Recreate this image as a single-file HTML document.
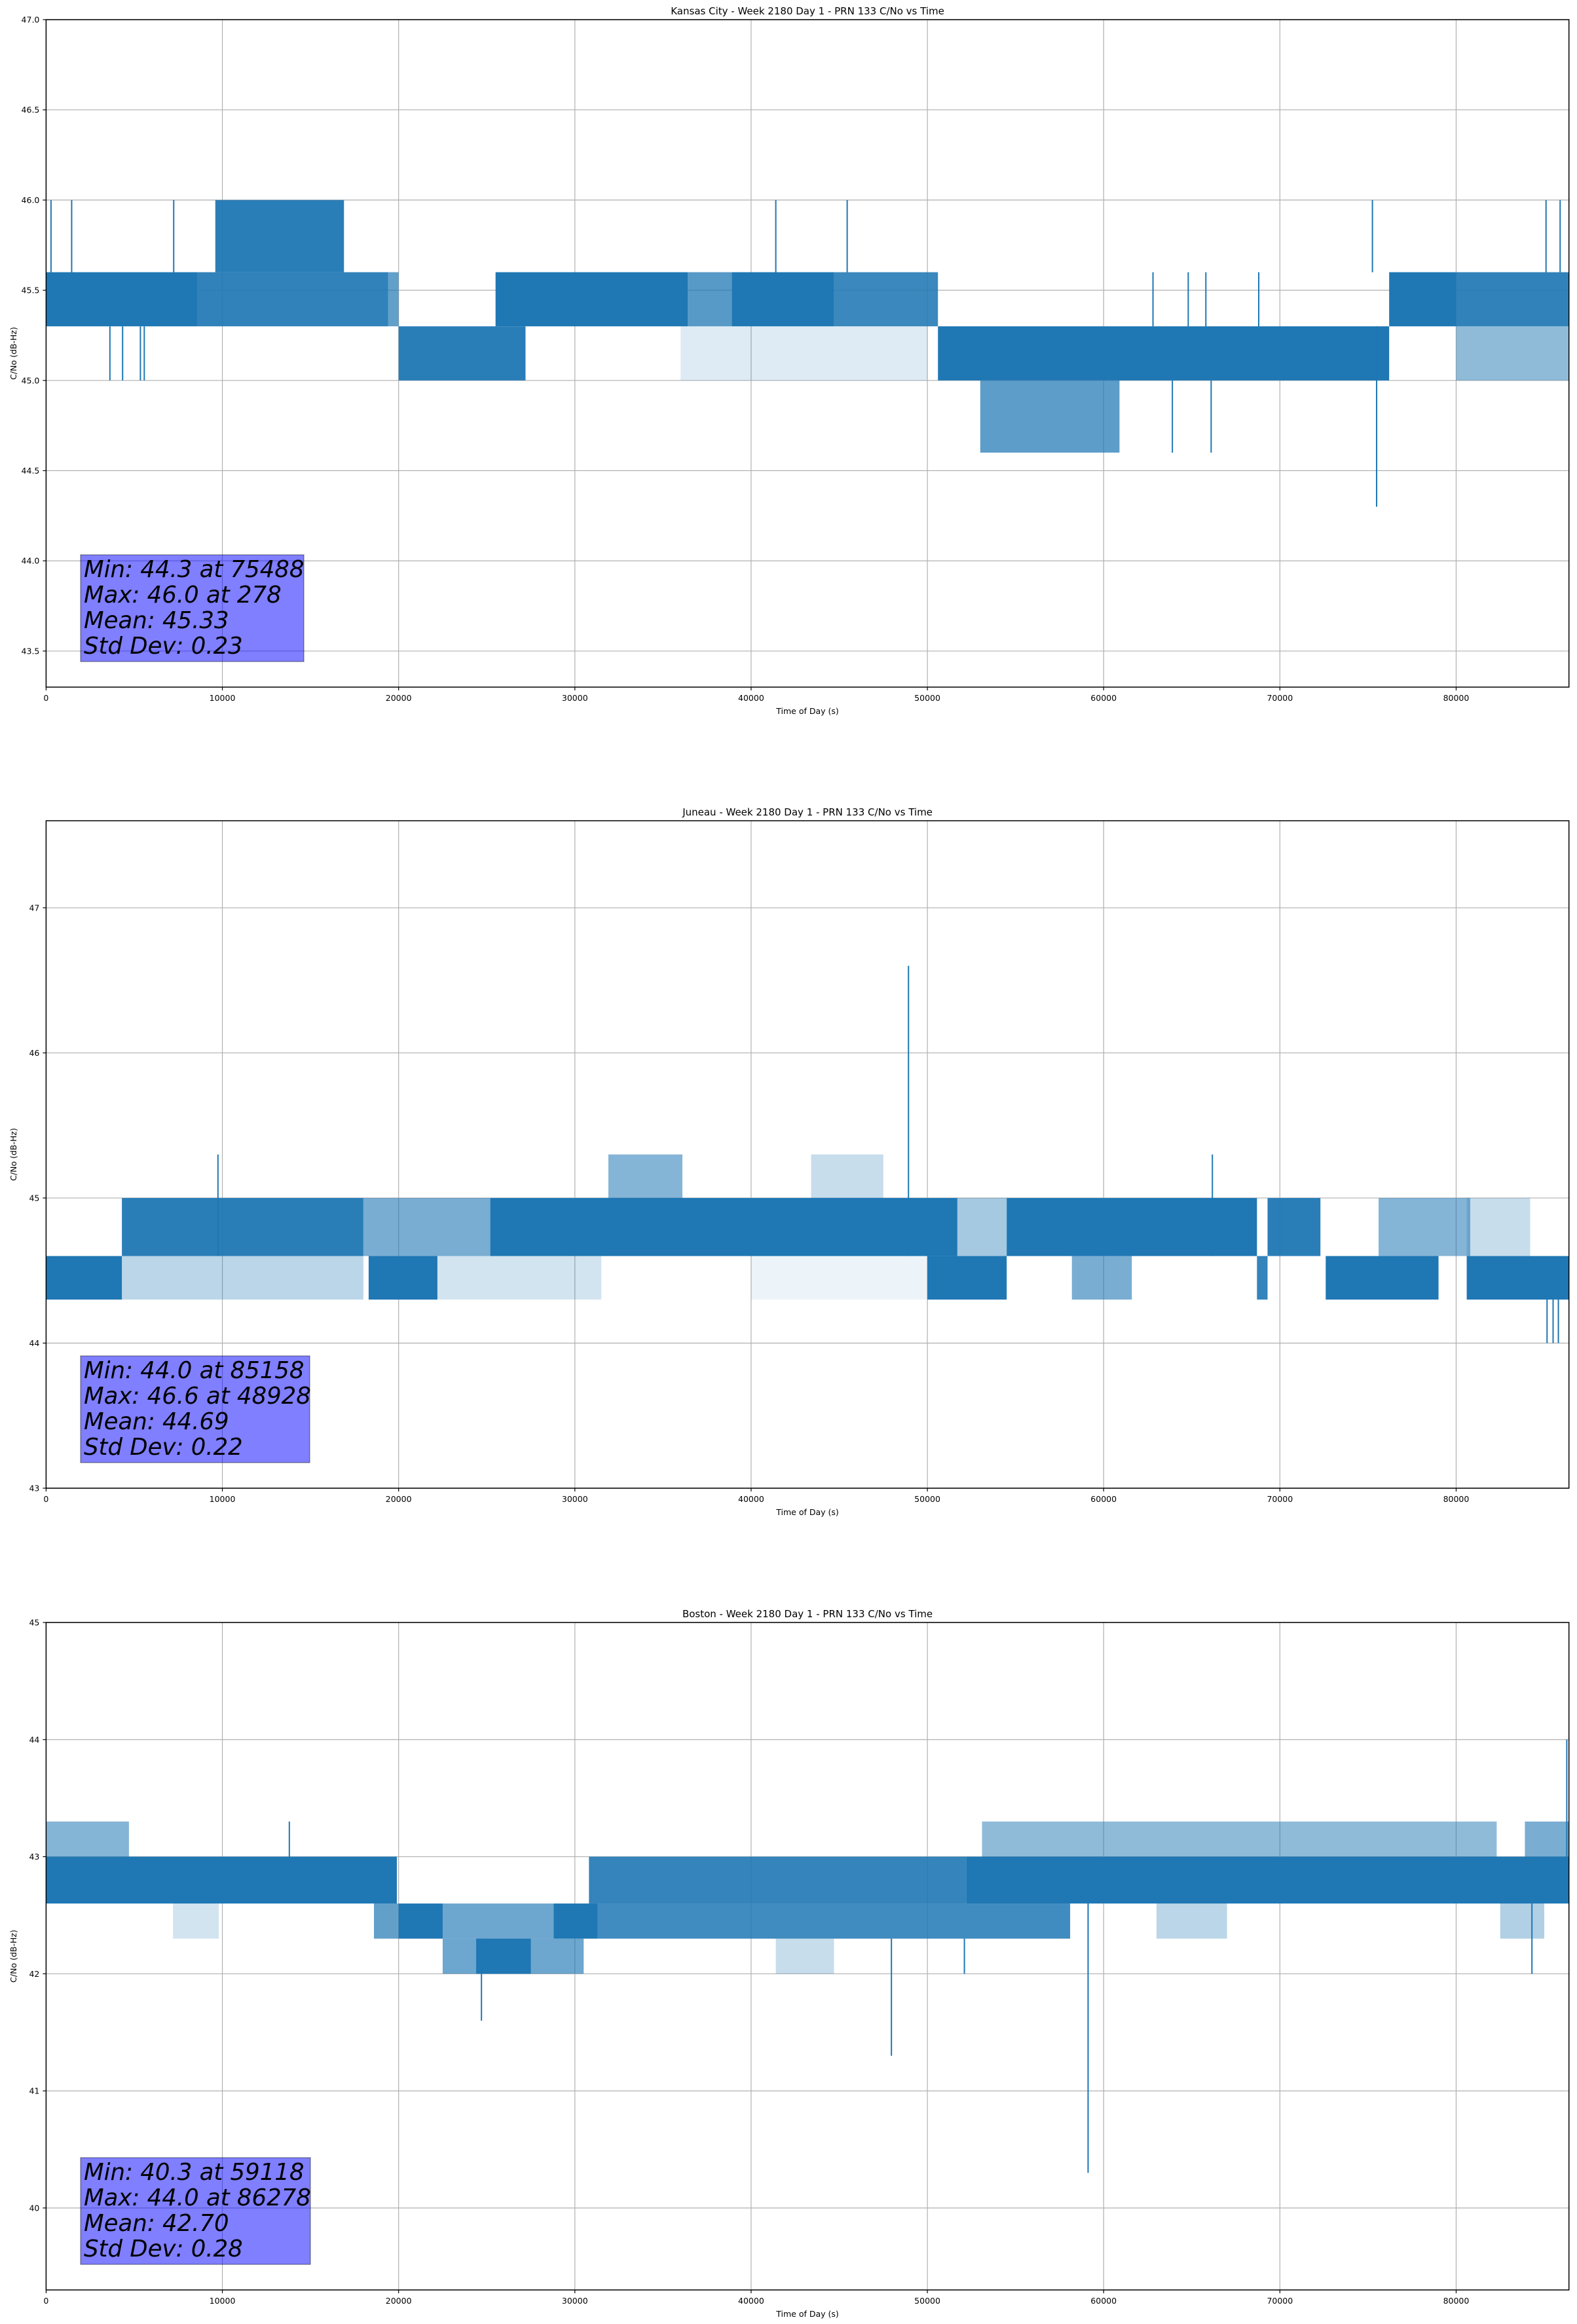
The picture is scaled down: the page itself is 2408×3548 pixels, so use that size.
<!DOCTYPE html>
<html><head><meta charset="utf-8"><title>PRN 133 C/No vs Time</title>
<style>html,body{margin:0;padding:0;background:#fff}svg{display:block}text{font-family:"DejaVu Sans","Liberation Sans",sans-serif}</style>
</head><body>
<svg id="fig" xmlns="http://www.w3.org/2000/svg" width="2408" height="3548" viewBox="0 0 2408 3548"></svg>
<script>
// ---------- Chart 1: Kansas City ----------
const kcTitle = "Kansas City - Week 2180 Day 1 - PRN 133 C/No vs Time";
const kcBandStart = [0,8600,9600,19400,20000,25500,36400,38900,44700,36000,50600,53000,76200,80000,80000];
const kcBandEnd   = [8600,19400,16900,20000,27200,36400,38900,44700,50600,50000,76200,60900,80000,86400,86400];
const kcBandLow   = [45.3,45.3,45.6,45.3,45.0,45.3,45.3,45.3,45.3,45.0,45.0,44.6,45.3,45.3,45.0];
const kcBandHigh  = [45.6,45.6,46.0,45.6,45.3,45.6,45.6,45.6,45.6,45.3,45.3,45.0,45.6,45.6,45.3];
const kcBandDensity = [1,0.92,0.95,0.7,0.95,1,0.75,1,0.88,0.15,1,0.72,1,0.92,0.5];
const kcSpikeT    = [278,1450,7240,41400,45450,75250,85100,85900,3620,4340,5350,5570,75488,63900,66100,62800,64800,65800,68800];
const kcSpikeLow  = [45.6,45.6,45.6,45.6,45.6,45.6,45.6,45.6,45.0,45.0,45.0,45.0,44.3,44.6,44.6,45.3,45.3,45.3,45.3];
const kcSpikeHigh = [46.0,46.0,46.0,46.0,46.0,46.0,46.0,46.0,45.3,45.3,45.3,45.3,45.3,45.0,45.0,45.6,45.6,45.6,45.6];
const kcYTicks = [43.5,44.0,44.5,45.0,45.5,46.0,46.5,47.0];
const kcStats = ["Min: 44.3 at 75488","Max: 46.0 at 278","Mean: 45.33","Std Dev: 0.23"];

// ---------- Chart 2: Juneau ----------
const juTitle = "Juneau - Week 2180 Day 1 - PRN 133 C/No vs Time";
const juBandStart = [0,4300,4300,18300,18000,22200,25200,31900,43400,40000,50000,51700,54500,69300,58200,68700,72600,75600,80600,80600];
const juBandEnd   = [4300,18000,18000,22200,25200,31500,51700,36100,47500,50000,54500,54500,68700,72300,61600,69300,79000,80800,86400,84200];
const juBandLow   = [44.3,44.6,44.3,44.3,44.6,44.3,44.6,45.0,45.0,44.3,44.3,44.6,44.6,44.6,44.3,44.3,44.3,44.6,44.3,44.6];
const juBandHigh  = [44.6,45.0,44.6,44.6,45.0,44.6,45.0,45.3,45.3,44.6,44.6,45.0,45.0,45.0,44.6,44.6,44.6,45.0,44.6,45.0];
const juBandDensity = [1,0.95,0.3,1,0.6,0.2,1,0.55,0.25,0.08,1,0.4,1,0.95,0.6,0.9,1,0.55,1,0.25];
const juSpikeT    = [9750,48928,66170,85158,85500,85800];
const juSpikeLow  = [44.6,44.6,44.6,44.0,44.0,44.0];
const juSpikeHigh = [45.3,46.6,45.3,44.3,44.3,44.3];
const juYTicks = [43,44,45,46,47];
const juStats = ["Min: 44.0 at 85158","Max: 46.6 at 48928","Mean: 44.69","Std Dev: 0.22"];

// ---------- Chart 3: Boston ----------
const boTitle = "Boston - Week 2180 Day 1 - PRN 133 C/No vs Time";
const boBandStart = [0,0,7200,18600,20000,22500,28800,22500,24400,30800,31300,52200,53100,83900,63000,82500,41400];
const boBandEnd   = [19900,4700,9800,20000,22500,28800,31300,30500,27500,52200,58100,86400,82300,86400,67000,85000,44700];
const boBandLow   = [42.6,43.0,42.3,42.3,42.3,42.3,42.3,42.0,42.0,42.6,42.3,42.6,43.0,43.0,42.3,42.3,42.0];
const boBandHigh  = [43.0,43.3,42.6,42.6,42.6,42.6,42.6,42.3,42.3,43.0,42.6,43.0,43.3,43.3,42.6,42.6,42.3];
const boBandDensity = [1,0.55,0.2,0.7,1,0.65,1,0.65,1,0.9,0.85,1,0.5,0.6,0.3,0.35,0.25];
const boSpikeT    = [13800,24700,47960,59118,86278,84300,52100];
const boSpikeLow  = [43.0,41.6,41.3,40.3,42.6,42.0,42.0];
const boSpikeHigh = [43.3,42.3,42.3,42.6,44.0,42.6,42.3];
const boYTicks = [40,41,42,43,44,45];
const boStats = ["Min: 40.3 at 59118","Max: 44.0 at 86278","Mean: 42.70","Std Dev: 0.28"];

const xTicks = [0,10000,20000,30000,40000,50000,60000,70000,80000];
const X_MAX = 86400;

const NS = "http://www.w3.org/2000/svg";
const fig = document.getElementById('fig');
function mk(tag, attrs, parent){
  const e = document.createElementNS(NS, tag);
  for (const k in attrs) e.setAttribute(k, attrs[k]);
  (parent||fig).appendChild(e);
  return e;
}
const L = 70.4, R = 2395.7;
function xScale(t){ return L + (t / X_MAX) * (R - L); }

function drawChart(id, cfg, title, bS, bE, bLo, bHi, bD, sT, sLo, sHi, yTicks, stats, dec, boxW){
  const top = cfg.top, bot = cfg.bot;
  const yScale = v => bot - (v - cfg.ymin) / (cfg.ymax - cfg.ymin) * (bot - top);
  const g = mk('g', {});
  
  
  mk('clipPath', {id: id+'-clip'}, g);
  mk('rect', {x: L, y: top, width: R-L, height: bot-top}, g.lastChild);
  const grid = mk('g', {stroke:'#b0b0b0','stroke-width':1.2}, g);
  
  
  xTicks.forEach(t => mk('line', {x1:xScale(t), x2:xScale(t), y1:top, y2:bot}, grid));
  yTicks.forEach(v => mk('line', {x1:L, x2:R, y1:yScale(v), y2:yScale(v)}, grid));
  const ser = mk('g', {'clip-path':'url(#'+id+'-clip)', fill:'#1f77b4', stroke:'#1f77b4'}, g);
  
  
  for (let i=0;i<bS.length;i++){
    const r = mk('rect', {x:xScale(bS[i]), width:Math.max(1,xScale(bE[i])-xScale(bS[i])), y:yScale(bHi[i]), height:yScale(bLo[i])-yScale(bHi[i]), 'fill-opacity':bD[i], stroke:'none'}, ser);
    
    
  }
  for (let i=0;i<sT.length;i++){
    const ln = mk('line', {x1:xScale(sT[i]), x2:xScale(sT[i]), y1:yScale(sLo[i]), y2:yScale(sHi[i]), 'stroke-width':2}, ser);
    
    
  }
  const fr = mk('rect', {x:L, y:top, width:R-L, height:bot-top, fill:'none', stroke:'#000', 'stroke-width':1.5}, g);
  
  
  xTicks.forEach(t => {
    mk('line', {x1:xScale(t), x2:xScale(t), y1:bot, y2:bot+5, stroke:'#000','stroke-width':1.2}, g);
    const tx = mk('text', {x:xScale(t), y:bot+21, 'font-size':12.5, 'text-anchor':'middle', fill:'#000'}, g);
    tx.textContent = String(t);
    
    
  });
  yTicks.forEach(v => {
    mk('line', {x1:L-5, x2:L, y1:yScale(v), y2:yScale(v), stroke:'#000','stroke-width':1.2}, g);
    const tx = mk('text', {x:L-10, y:yScale(v)+4.5, 'font-size':12.5, 'text-anchor':'end', fill:'#000'}, g);
    tx.textContent = v.toFixed(dec);
    
    
  });
  const tt = mk('text', {x:(L+R)/2, y:top-8, 'font-size':15, 'text-anchor':'middle', fill:'#000'}, g);
  tt.textContent = title;
  
  
  const xl = mk('text', {x:(L+R)/2, y:bot+41, 'font-size':12.5, 'text-anchor':'middle', fill:'#000'}, g);
  xl.textContent = 'Time of Day (s)';
  
  
  const yc = (top+bot)/2;
  const yl = mk('text', {x:21, y:yc, 'font-size':12.5, 'text-anchor':'middle', fill:'#000', transform:'rotate(-90 21 '+yc+')', dy:'4'}, g);
  yl.textContent = 'C/No (dB-Hz)';
  
  
  const bTop = bot - 39 - 163;
  const sb = mk('g', {}, g);
  
  
  mk('rect', {x:123, y:bTop, width:boxW, height:163, fill:'#0000ff', 'fill-opacity':0.5, stroke:'#000', 'stroke-opacity':0.35, 'stroke-width':1.5}, sb);
  stats.forEach((s,i) => {
    const tx = mk('text', {x:128, y:bTop+34+i*39, 'font-size':35.5, 'font-style':'italic', fill:'#000'}, sb);
    tx.textContent = s;
    
    
  });
}

drawChart('kansas-city', {top:30, bot:1049, ymin:43.3, ymax:47.0}, kcTitle, kcBandStart, kcBandEnd, kcBandLow, kcBandHigh, kcBandDensity, kcSpikeT, kcSpikeLow, kcSpikeHigh, kcYTicks, kcStats, 1, 341);
drawChart('juneau', {top:1253, bot:2272, ymin:43.0, ymax:47.6}, juTitle, juBandStart, juBandEnd, juBandLow, juBandHigh, juBandDensity, juSpikeT, juSpikeLow, juSpikeHigh, juYTicks, juStats, 0, 350);
drawChart('boston', {top:2477, bot:3496, ymin:39.3, ymax:45.0}, boTitle, boBandStart, boBandEnd, boBandLow, boBandHigh, boBandDensity, boSpikeT, boSpikeLow, boSpikeHigh, boYTicks, boStats, 0, 351);
</script>
</body></html>
